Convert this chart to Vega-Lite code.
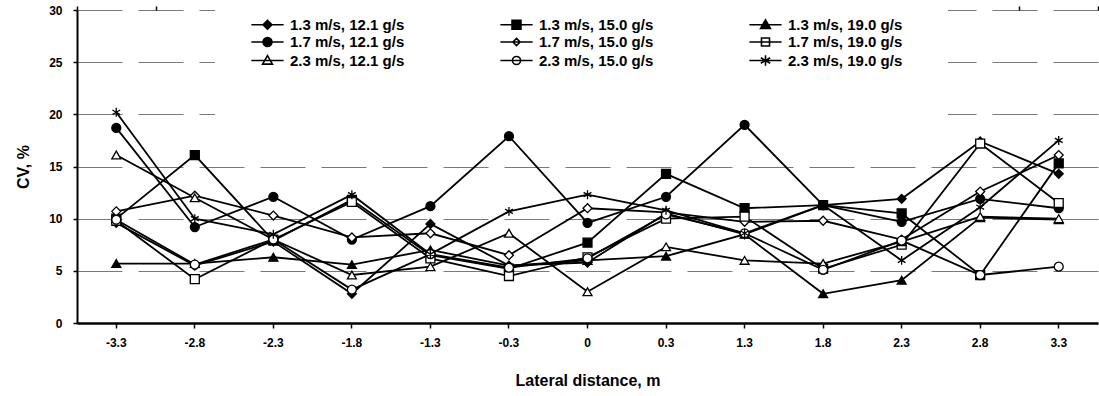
{
  "$schema": "https://vega.github.io/schema/vega-lite/v6.json",
  "width": 1021,
  "height": 313,
  "autosize": {"type": "none"},
  "padding": {"left": 77, "top": 10, "right": 1, "bottom": 73},
  "background": "white",
  "config": {
    "view": {"stroke": null},
    "font": "Liberation Sans",
    "axis": {"labelFont": "Liberation Sans", "titleFont": "Liberation Sans", "labelFontWeight": "bold", "titleFontWeight": "bold", "labelColor": "black", "titleColor": "black"},
    "legend": {"title": null, "orient": "none", "legendX": 138, "legendY": -38, "direction": "horizontal", "columns": 3, "columnPadding": 92, "rowPadding": 0.5, "padding": 45, "fillColor": "white", "strokeColor": null, "labelFontSize": 15, "labelFontWeight": "bold", "labelFont": "Liberation Sans", "labelColor": "black", "labelOffset": 15, "symbolStrokeColor": "black", "symbolStrokeWidth": 1.6, "symbolSize": 80, "symbolOpacity": 1, "labelLimit": 300}
  },
  "datasets": {
    "cv": [
      {"s": "1.3 m/s, 12.1 g/s", "x": "-3.3", "v": 9.6}, {"s": "1.3 m/s, 12.1 g/s", "x": "-2.8", "v": 5.5}, {"s": "1.3 m/s, 12.1 g/s", "x": "-2.3", "v": 7.8}, {"s": "1.3 m/s, 12.1 g/s", "x": "-1.8", "v": 2.8}, {"s": "1.3 m/s, 12.1 g/s", "x": "-1.3", "v": 9.5}, {"s": "1.3 m/s, 12.1 g/s", "x": "-0.3", "v": 5.5}, {"s": "1.3 m/s, 12.1 g/s", "x": "0", "v": 5.8}, {"s": "1.3 m/s, 12.1 g/s", "x": "0.3", "v": 10.5}, {"s": "1.3 m/s, 12.1 g/s", "x": "1.3", "v": 8.5}, {"s": "1.3 m/s, 12.1 g/s", "x": "1.8", "v": 11.3}, {"s": "1.3 m/s, 12.1 g/s", "x": "2.3", "v": 11.9}, {"s": "1.3 m/s, 12.1 g/s", "x": "2.8", "v": 17.4}, {"s": "1.3 m/s, 12.1 g/s", "x": "3.3", "v": 14.3},
      {"s": "1.3 m/s, 15.0 g/s", "x": "-3.3", "v": 10.0}, {"s": "1.3 m/s, 15.0 g/s", "x": "-2.8", "v": 16.1}, {"s": "1.3 m/s, 15.0 g/s", "x": "-2.3", "v": 7.9}, {"s": "1.3 m/s, 15.0 g/s", "x": "-1.8", "v": 11.8}, {"s": "1.3 m/s, 15.0 g/s", "x": "-1.3", "v": 6.5}, {"s": "1.3 m/s, 15.0 g/s", "x": "-0.3", "v": 5.2}, {"s": "1.3 m/s, 15.0 g/s", "x": "0", "v": 7.7}, {"s": "1.3 m/s, 15.0 g/s", "x": "0.3", "v": 14.3}, {"s": "1.3 m/s, 15.0 g/s", "x": "1.3", "v": 11.0}, {"s": "1.3 m/s, 15.0 g/s", "x": "1.8", "v": 11.3}, {"s": "1.3 m/s, 15.0 g/s", "x": "2.3", "v": 10.5}, {"s": "1.3 m/s, 15.0 g/s", "x": "2.8", "v": 4.6}, {"s": "1.3 m/s, 15.0 g/s", "x": "3.3", "v": 15.3},
      {"s": "1.3 m/s, 19.0 g/s", "x": "-3.3", "v": 5.7}, {"s": "1.3 m/s, 19.0 g/s", "x": "-2.8", "v": 5.7}, {"s": "1.3 m/s, 19.0 g/s", "x": "-2.3", "v": 6.3}, {"s": "1.3 m/s, 19.0 g/s", "x": "-1.8", "v": 5.6}, {"s": "1.3 m/s, 19.0 g/s", "x": "-1.3", "v": 7.0}, {"s": "1.3 m/s, 19.0 g/s", "x": "-0.3", "v": 5.5}, {"s": "1.3 m/s, 19.0 g/s", "x": "0", "v": 6.0}, {"s": "1.3 m/s, 19.0 g/s", "x": "0.3", "v": 6.4}, {"s": "1.3 m/s, 19.0 g/s", "x": "1.3", "v": 8.5}, {"s": "1.3 m/s, 19.0 g/s", "x": "1.8", "v": 2.8}, {"s": "1.3 m/s, 19.0 g/s", "x": "2.3", "v": 4.1}, {"s": "1.3 m/s, 19.0 g/s", "x": "2.8", "v": 10.1}, {"s": "1.3 m/s, 19.0 g/s", "x": "3.3", "v": 9.9},
      {"s": "1.7 m/s, 12.1 g/s", "x": "-3.3", "v": 18.7}, {"s": "1.7 m/s, 12.1 g/s", "x": "-2.8", "v": 9.2}, {"s": "1.7 m/s, 12.1 g/s", "x": "-2.3", "v": 12.1}, {"s": "1.7 m/s, 12.1 g/s", "x": "-1.8", "v": 8.0}, {"s": "1.7 m/s, 12.1 g/s", "x": "-1.3", "v": 11.2}, {"s": "1.7 m/s, 12.1 g/s", "x": "-0.3", "v": 17.9}, {"s": "1.7 m/s, 12.1 g/s", "x": "0", "v": 9.6}, {"s": "1.7 m/s, 12.1 g/s", "x": "0.3", "v": 12.1}, {"s": "1.7 m/s, 12.1 g/s", "x": "1.3", "v": 19.0}, {"s": "1.7 m/s, 12.1 g/s", "x": "1.8", "v": 11.3}, {"s": "1.7 m/s, 12.1 g/s", "x": "2.3", "v": 9.7}, {"s": "1.7 m/s, 12.1 g/s", "x": "2.8", "v": 11.9}, {"s": "1.7 m/s, 12.1 g/s", "x": "3.3", "v": 11.0},
      {"s": "1.7 m/s, 15.0 g/s", "x": "-3.3", "v": 10.7}, {"s": "1.7 m/s, 15.0 g/s", "x": "-2.8", "v": 12.2}, {"s": "1.7 m/s, 15.0 g/s", "x": "-2.3", "v": 10.3}, {"s": "1.7 m/s, 15.0 g/s", "x": "-1.8", "v": 8.2}, {"s": "1.7 m/s, 15.0 g/s", "x": "-1.3", "v": 8.6}, {"s": "1.7 m/s, 15.0 g/s", "x": "-0.3", "v": 6.5}, {"s": "1.7 m/s, 15.0 g/s", "x": "0", "v": 11.0}, {"s": "1.7 m/s, 15.0 g/s", "x": "0.3", "v": 10.6}, {"s": "1.7 m/s, 15.0 g/s", "x": "1.3", "v": 9.7}, {"s": "1.7 m/s, 15.0 g/s", "x": "1.8", "v": 9.8}, {"s": "1.7 m/s, 15.0 g/s", "x": "2.3", "v": 8.0}, {"s": "1.7 m/s, 15.0 g/s", "x": "2.8", "v": 12.6}, {"s": "1.7 m/s, 15.0 g/s", "x": "3.3", "v": 16.1},
      {"s": "1.7 m/s, 19.0 g/s", "x": "-3.3", "v": 9.8}, {"s": "1.7 m/s, 19.0 g/s", "x": "-2.8", "v": 4.2}, {"s": "1.7 m/s, 19.0 g/s", "x": "-2.3", "v": 8.0}, {"s": "1.7 m/s, 19.0 g/s", "x": "-1.8", "v": 11.6}, {"s": "1.7 m/s, 19.0 g/s", "x": "-1.3", "v": 6.2}, {"s": "1.7 m/s, 19.0 g/s", "x": "-0.3", "v": 4.5}, {"s": "1.7 m/s, 19.0 g/s", "x": "0", "v": 6.3}, {"s": "1.7 m/s, 19.0 g/s", "x": "0.3", "v": 10.0}, {"s": "1.7 m/s, 19.0 g/s", "x": "1.3", "v": 10.2}, {"s": "1.7 m/s, 19.0 g/s", "x": "1.8", "v": 5.2}, {"s": "1.7 m/s, 19.0 g/s", "x": "2.3", "v": 7.5}, {"s": "1.7 m/s, 19.0 g/s", "x": "2.8", "v": 17.2}, {"s": "1.7 m/s, 19.0 g/s", "x": "3.3", "v": 11.5},
      {"s": "2.3 m/s, 12.1 g/s", "x": "-3.3", "v": 16.1}, {"s": "2.3 m/s, 12.1 g/s", "x": "-2.8", "v": 12.0}, {"s": "2.3 m/s, 12.1 g/s", "x": "-2.3", "v": 8.0}, {"s": "2.3 m/s, 12.1 g/s", "x": "-1.8", "v": 4.6}, {"s": "2.3 m/s, 12.1 g/s", "x": "-1.3", "v": 5.4}, {"s": "2.3 m/s, 12.1 g/s", "x": "-0.3", "v": 8.6}, {"s": "2.3 m/s, 12.1 g/s", "x": "0", "v": 3.0}, {"s": "2.3 m/s, 12.1 g/s", "x": "0.3", "v": 7.3}, {"s": "2.3 m/s, 12.1 g/s", "x": "1.3", "v": 6.0}, {"s": "2.3 m/s, 12.1 g/s", "x": "1.8", "v": 5.7}, {"s": "2.3 m/s, 12.1 g/s", "x": "2.3", "v": 7.8}, {"s": "2.3 m/s, 12.1 g/s", "x": "2.8", "v": 10.2}, {"s": "2.3 m/s, 12.1 g/s", "x": "3.3", "v": 10.0},
      {"s": "2.3 m/s, 15.0 g/s", "x": "-3.3", "v": 9.9}, {"s": "2.3 m/s, 15.0 g/s", "x": "-2.8", "v": 5.6}, {"s": "2.3 m/s, 15.0 g/s", "x": "-2.3", "v": 8.0}, {"s": "2.3 m/s, 15.0 g/s", "x": "-1.8", "v": 3.2}, {"s": "2.3 m/s, 15.0 g/s", "x": "-1.3", "v": 6.6}, {"s": "2.3 m/s, 15.0 g/s", "x": "-0.3", "v": 5.3}, {"s": "2.3 m/s, 15.0 g/s", "x": "0", "v": 6.2}, {"s": "2.3 m/s, 15.0 g/s", "x": "0.3", "v": 10.4}, {"s": "2.3 m/s, 15.0 g/s", "x": "1.3", "v": 8.6}, {"s": "2.3 m/s, 15.0 g/s", "x": "1.8", "v": 5.1}, {"s": "2.3 m/s, 15.0 g/s", "x": "2.3", "v": 7.9}, {"s": "2.3 m/s, 15.0 g/s", "x": "2.8", "v": 4.6}, {"s": "2.3 m/s, 15.0 g/s", "x": "3.3", "v": 5.4},
      {"s": "2.3 m/s, 19.0 g/s", "x": "-3.3", "v": 20.2}, {"s": "2.3 m/s, 19.0 g/s", "x": "-2.8", "v": 10.0}, {"s": "2.3 m/s, 19.0 g/s", "x": "-2.3", "v": 8.5}, {"s": "2.3 m/s, 19.0 g/s", "x": "-1.8", "v": 12.3}, {"s": "2.3 m/s, 19.0 g/s", "x": "-1.3", "v": 6.6}, {"s": "2.3 m/s, 19.0 g/s", "x": "-0.3", "v": 10.7}, {"s": "2.3 m/s, 19.0 g/s", "x": "0", "v": 12.3}, {"s": "2.3 m/s, 19.0 g/s", "x": "0.3", "v": 10.8}, {"s": "2.3 m/s, 19.0 g/s", "x": "1.3", "v": 8.6}, {"s": "2.3 m/s, 19.0 g/s", "x": "1.8", "v": 11.3}, {"s": "2.3 m/s, 19.0 g/s", "x": "2.3", "v": 6.0}, {"s": "2.3 m/s, 19.0 g/s", "x": "2.8", "v": 11.1}, {"s": "2.3 m/s, 19.0 g/s", "x": "3.3", "v": 17.5}
    ]
  },
  "data": {"name": "cv"},
  "layer": [
    {
      "mark": {"type": "line", "color": "black", "strokeWidth": 1.8},
      "encoding": {
        "x": {
          "field": "x", "type": "ordinal", "bandPosition": 0.5,
          "sort": ["-3.3", "-2.8", "-2.3", "-1.8", "-1.3", "-0.3", "0", "0.3", "1.3", "1.8", "2.3", "2.8", "3.3"],
          "scale": {"type": "band", "paddingInner": 0, "paddingOuter": 0},
          "axis": {"title": "Lateral distance, m", "titleFontSize": 16, "titlePadding": 24, "labelFontSize": 12, "labelAngle": 0, "labelPadding": 9, "tickSize": 5, "tickColor": "black", "tickWidth": 1.5, "domainColor": "black", "domainWidth": 2.5, "grid": false}
        },
        "y": {
          "field": "v", "type": "quantitative",
          "scale": {"domain": [0, 30], "nice": false, "zero": true},
          "axis": {"title": "CV, %", "values": [0, 5, 10, 15, 20, 25, 30], "grid": true, "gridColor": "#7a7a7a", "gridDash": [45, 16], "gridWidth": 1, "domainColor": "black", "domainWidth": 2, "tickSize": 4, "tickColor": "black", "tickWidth": 1.5, "labelPadding": 11, "labelFontSize": 12, "titleFontSize": 16, "titlePadding": 17}
        },
        "detail": {"field": "s", "type": "nominal"}
      }
    },
    {
      "mark": {"type": "point", "filled": true, "stroke": "black", "strokeWidth": 1.3, "opacity": 1},
      "encoding": {
        "x": {
          "field": "x", "type": "ordinal", "bandPosition": 0.5,
          "sort": ["-3.3", "-2.8", "-2.3", "-1.8", "-1.3", "-0.3", "0", "0.3", "1.3", "1.8", "2.3", "2.8", "3.3"],
          "axis": {"title": null, "labels": false, "domain": false, "grid": false, "tickBand": "extent", "tickSize": 4, "tickColor": "black", "tickWidth": 1.5}
        },
        "y": {"field": "v", "type": "quantitative"},
        "shape": {
          "field": "s", "type": "nominal", "legend": null,
          "scale": {
            "domain": ["1.3 m/s, 12.1 g/s", "1.3 m/s, 15.0 g/s", "1.3 m/s, 19.0 g/s", "1.7 m/s, 12.1 g/s", "1.7 m/s, 15.0 g/s", "1.7 m/s, 19.0 g/s", "2.3 m/s, 12.1 g/s", "2.3 m/s, 15.0 g/s", "2.3 m/s, 19.0 g/s"],
            "range": ["diamond", "square", "triangle-up", "circle", "diamond", "square", "triangle-up", "circle", "M0,-1L0,1M-0.87,-0.5L0.87,0.5M-0.87,0.5L0.87,-0.5"]
          }
        },
        "fill": {
          "field": "s", "type": "nominal", "legend": null,
          "scale": {
            "domain": ["1.3 m/s, 12.1 g/s", "1.3 m/s, 15.0 g/s", "1.3 m/s, 19.0 g/s", "1.7 m/s, 12.1 g/s", "1.7 m/s, 15.0 g/s", "1.7 m/s, 19.0 g/s", "2.3 m/s, 12.1 g/s", "2.3 m/s, 15.0 g/s", "2.3 m/s, 19.0 g/s"],
            "range": ["black", "black", "black", "black", "white", "white", "white", "white", "white"]
          }
        },
        "size": {
          "field": "s", "type": "nominal", "legend": null,
          "scale": {
            "domain": ["1.3 m/s, 12.1 g/s", "1.3 m/s, 15.0 g/s", "1.3 m/s, 19.0 g/s", "1.7 m/s, 12.1 g/s", "1.7 m/s, 15.0 g/s", "1.7 m/s, 19.0 g/s", "2.3 m/s, 12.1 g/s", "2.3 m/s, 15.0 g/s", "2.3 m/s, 19.0 g/s"],
            "range": [80, 80, 80, 90, 50, 70, 75, 70, 170]
          }
        }
      }
    },
    {
      "transform": [{"filter": "datum.v < 0"}],
      "mark": {"type": "point", "filled": true, "strokeWidth": 1.5, "opacity": 1, "size": 80},
      "encoding": {
        "shape": {
          "field": "s", "type": "nominal",
          "scale": {
            "domain": ["1.3 m/s, 12.1 g/s", "1.3 m/s, 15.0 g/s", "1.3 m/s, 19.0 g/s", "1.7 m/s, 12.1 g/s", "1.7 m/s, 15.0 g/s", "1.7 m/s, 19.0 g/s", "2.3 m/s, 12.1 g/s", "2.3 m/s, 15.0 g/s", "2.3 m/s, 19.0 g/s"],
            "range": [
              "M-3.6,0L3.6,0M0,-1L1,0L0,1L-1,0Z",
              "M-3.6,0L3.6,0M-1,-1L1,-1L1,1L-1,1Z",
              "M-3.6,0L3.6,0M0,-1.1L1.1,0.8L-1.1,0.8Z",
              "M-3.6,0L3.6,0M1,0A1,1,0,1,1,-1,0A1,1,0,1,1,1,0Z",
              "M-3.6,0L3.6,0M0,-0.8L0.8,0L0,0.8L-0.8,0Z",
              "M-3.6,0L3.6,0M-0.9,-0.9L0.9,-0.9L0.9,0.9L-0.9,0.9Z",
              "M-3.6,0L3.6,0M0,-1.1L1.1,0.8L-1.1,0.8Z",
              "M-3.6,0L3.6,0M0.9,0A0.9,0.9,0,1,1,-0.9,0A0.9,0.9,0,1,1,0.9,0Z",
              "M-3.6,0L3.6,0M0,-1.2L0,1.2M-1.05,-0.6L1.05,0.6M-1.05,0.6L1.05,-0.6"
            ]
          }
        },
        "fill": {
          "field": "s", "type": "nominal",
          "scale": {
            "domain": ["1.3 m/s, 12.1 g/s", "1.3 m/s, 15.0 g/s", "1.3 m/s, 19.0 g/s", "1.7 m/s, 12.1 g/s", "1.7 m/s, 15.0 g/s", "1.7 m/s, 19.0 g/s", "2.3 m/s, 12.1 g/s", "2.3 m/s, 15.0 g/s", "2.3 m/s, 19.0 g/s"],
            "range": ["black", "black", "black", "black", "white", "white", "white", "white", "white"]
          }
        },
        "stroke": {
          "field": "s", "type": "nominal",
          "scale": {
            "domain": ["1.3 m/s, 12.1 g/s", "1.3 m/s, 15.0 g/s", "1.3 m/s, 19.0 g/s", "1.7 m/s, 12.1 g/s", "1.7 m/s, 15.0 g/s", "1.7 m/s, 19.0 g/s", "2.3 m/s, 12.1 g/s", "2.3 m/s, 15.0 g/s", "2.3 m/s, 19.0 g/s"],
            "range": ["black", "black", "black", "black", "black", "black", "black", "black", "black"]
          }
        }
      }
    }
  ],
  "resolve": {
    "scale": {"shape": "independent", "fill": "independent", "size": "independent", "stroke": "independent"},
    "axis": {"x": "independent"}
  }
}
